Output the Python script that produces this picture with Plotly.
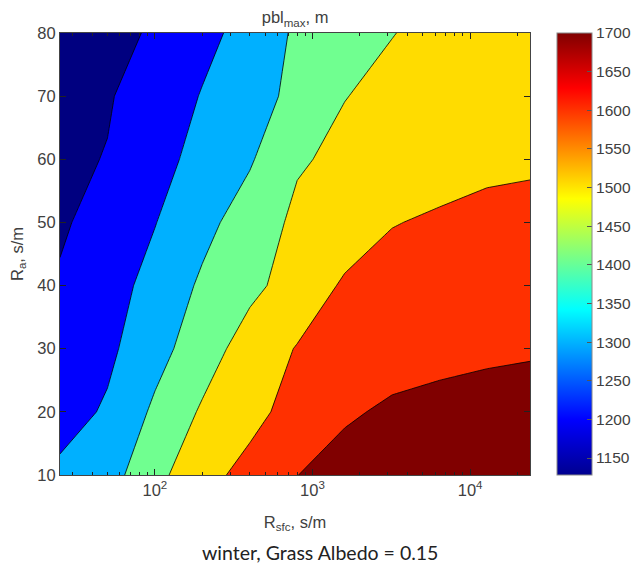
from plotly import graph_objects as go

# surface resistance (s/m), log axis
r_sfc = [25, 50, 100, 200, 400, 800, 1600, 3200, 6400, 12800, 24000]
# aerodynamic resistance (s/m)
r_a = [10, 20, 30, 40, 50, 60, 70, 80]

# pbl_max (m), one row per R_a value
pbl_max = [
    [1270, 1310, 1420, 1520, 1579, 1649, 1685, 1690, 1695, 1698, 1700],
    [1210, 1262, 1367, 1462, 1522, 1585, 1638, 1664, 1672, 1678, 1682],
    [1195, 1230, 1315, 1403, 1495, 1555, 1590, 1612, 1628, 1637, 1642],
    [1158, 1212, 1281, 1365, 1426, 1492, 1562, 1590, 1610, 1622, 1630],
    [1140, 1180, 1247, 1322, 1396, 1470, 1500, 1546, 1563, 1578, 1585],
    [1135, 1153, 1219, 1279, 1340, 1440, 1470, 1490, 1510, 1527, 1533],
    [1130, 1144, 1185, 1256, 1313, 1374, 1448, 1470, 1490, 1505, 1515],
    [1128, 1145, 1152, 1220, 1287, 1365, 1401, 1448, 1470, 1490, 1505],
]

x_major = [100, 1000, 10000]
x_major_text = ['10<sup>2</sup>', '10<sup>3</sup>', '10<sup>4</sup>']
x_minor = [30, 40, 50, 60, 70, 80, 90,
           200, 300, 400, 500, 600, 700, 800, 900,
           2000, 3000, 4000, 5000, 6000, 7000, 8000, 9000, 20000]
y_ticks = [10, 20, 30, 40, 50, 60, 70, 80]
cbar_ticks = [1150, 1200, 1250, 1300, 1350, 1400, 1450, 1500, 1550, 1600, 1650, 1700]

# matlab-like jet for the colorbar
jet = [
    [0.0, 'rgb(0,0,143)'], [0.125, 'rgb(0,0,255)'], [0.375, 'rgb(0,255,255)'],
    [0.625, 'rgb(255,255,0)'], [0.875, 'rgb(255,0,0)'], [1.0, 'rgb(128,0,0)'],
]

# flat colours of the filled bands
band_colors = ['rgb(0,0,128)', 'rgb(0,0,255)', 'rgb(0,176,255)', 'rgb(112,255,144)',
               'rgb(255,220,0)', 'rgb(255,48,0)', 'rgb(128,0,0)']
n = len(band_colors) - 1
band_scale = []
for i, c in enumerate(band_colors):
    lo = max(0, (i - 0.5) / n)
    hi = min(1, (i + 0.5) / n)
    band_scale += [[lo, c], [hi, c]]

txt = '#404040'
fnt = 'Arial'
fs = 16.5

fig = go.Figure()

fig.add_trace(go.Contour(
    x=r_sfc, y=r_a, z=pbl_max,
    contours=dict(start=1150, end=1650, size=100, coloring='fill'),
    colorscale=band_scale,
    line=dict(color='black', width=0.8, smoothing=0),
    showscale=False,
    hoverinfo='skip',
))

# dummy trace just to draw the continuous colorbar
fig.add_trace(go.Scatter(
    x=[None], y=[None], mode='markers', showlegend=False,
    marker=dict(color=[1128], colorscale=jet, cmin=1128, cmax=1700, showscale=True,
                colorbar=dict(thickness=35, len=1.0, y=0.5, yanchor='middle',
                              x=1.057, xanchor='left', xpad=0, ypad=0,
                              tickvals=cbar_ticks, ticks='inside', ticklen=5, tickcolor='#555',
                              outlinecolor='#888', outlinewidth=1,
                              tickfont=dict(size=15.5, color=txt, family=fnt))),
))

fig.update_xaxes(
    type='log', range=[1.398, 4.38],
    tickvals=x_major, ticktext=x_major_text,
    ticks='inside', ticklen=6, tickcolor='#222',
    minor=dict(tickvals=x_minor, ticks='inside', ticklen=3, tickcolor='#222', showgrid=False),
    showline=True, linecolor='#444', linewidth=1, mirror='ticks',
    showgrid=False, zeroline=False,
    tickfont=dict(size=fs, color=txt, family=fnt),
    title=dict(text='R<sub>sfc</sub>, s/m', font=dict(size=fs, color=txt, family=fnt), standoff=18),
)
fig.update_yaxes(
    range=[10, 80], tickvals=y_ticks,
    ticks='inside', ticklen=6, tickcolor='#222',
    showline=True, linecolor='#444', linewidth=1, mirror='ticks',
    showgrid=False, zeroline=False,
    tickfont=dict(size=fs, color=txt, family=fnt),
    title=dict(text='R<sub>a</sub>, s/m', font=dict(size=fs, color=txt, family=fnt), standoff=12),
)

# page body adds ~8px, so the figure is a bit smaller and shifted
fig.update_layout(
    width=631, height=563,
    margin=dict(l=52, r=109, t=25, b=96, autoexpand=False),
    paper_bgcolor='white', plot_bgcolor='white',
    title=dict(text='pbl<sub>max</sub>, m', x=0.455, xanchor='center', y=0.983, yanchor='middle',
               font=dict(size=fs, color=txt, family=fnt)),
    annotations=[dict(text='winter, Grass Albedo = 0.15', xref='paper', yref='paper',
                      x=0.553, y=-0.176, xanchor='center', yanchor='middle', showarrow=False,
                      font=dict(size=19.5, color='#222', family='Lato'))],
)

fig.write_html("out.html")
